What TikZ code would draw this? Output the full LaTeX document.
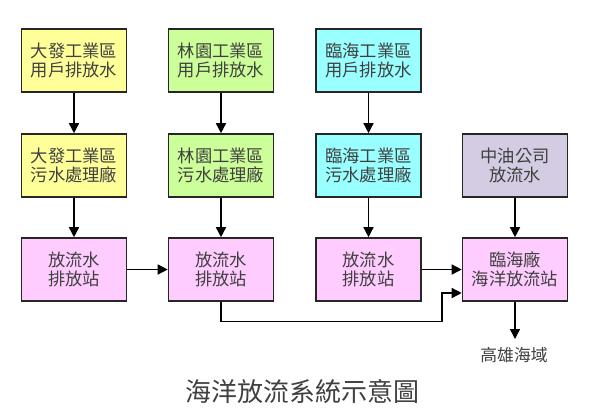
\documentclass[tikz,border=0pt]{standalone}
\usepackage{fontspec}
\setmainfont{Noto Sans CJK TC}
\usetikzlibrary{arrows.meta}
\definecolor{cyel}{HTML}{FFFF99}
\definecolor{cgrn}{HTML}{CCFF99}
\definecolor{ccyn}{HTML}{99FFFF}
\definecolor{cpur}{HTML}{D3CCE3}
\definecolor{cpnk}{HTML}{FFCCFF}
\definecolor{txt}{HTML}{404040}
\begin{document}
\begin{tikzpicture}[x=1pt,y=-1pt,
  box/.style={draw=black!85,line width=1.6pt,minimum width=105pt,minimum height=63pt,inner sep=0pt,
    align=center,font=\fontsize{17.3}{18.5}\selectfont,text=txt},
  conn/.style={line width=1.5pt,-{Triangle[width=10pt,length=10pt]}}]
\useasboundingbox (0,0) rectangle (591,413);
\node[box,fill=cyel] (a1) at (74,60.5) {大發工業區\\用戶排放水};
\node[box,fill=cgrn] (b1) at (221,60.5) {林園工業區\\用戶排放水};
\node[box,fill=ccyn] (c1) at (368.5,60.5) {臨海工業區\\用戶排放水};
\node[box,fill=cyel] (a2) at (74,165.5) {大發工業區\\污水處理廠};
\node[box,fill=cgrn] (b2) at (221,165.5) {林園工業區\\污水處理廠};
\node[box,fill=ccyn] (c2) at (368.5,165.5) {臨海工業區\\污水處理廠};
\node[box,fill=cpur] (d2) at (515,165.5) {中油公司\\放流水};
\node[box,fill=cpnk] (a3) at (74,269.5) {放流水\\排放站};
\node[box,fill=cpnk] (b3) at (221,269.5) {放流水\\排放站};
\node[box,fill=cpnk] (c3) at (368.5,269.5) {放流水\\排放站};
\node[box,fill=cpnk] (d3) at (515,269.5) {臨海廠\\海洋放流站};
\node[font=\fontsize{16.8}{18}\selectfont,text=txt] (out) at (514,355) {高雄海域};
\coordinate (oute) at (515,339);
\node[font=\fontsize{26}{28}\selectfont,text=txt] (title) at (302,392) {海洋放流系統示意圖};
\draw[conn] (a1) -- (a2);
\draw[conn] (b1) -- (b2);
\draw[conn] (c1) -- (c2);
\draw[conn] (a2) -- (a3);
\draw[conn] (b2) -- (b3);
\draw[conn] (c2) -- (c3);
\draw[conn] (d2) -- (d3);
\draw[conn] (a3) -- (b3);
\draw[conn] (c3) -- (d3);
\draw[conn] (b3.south) -- (221,321.5) -- (442,321.5) -- (442,293) -- (d3.west |- 0,293);
\draw[conn] (d3) -- (oute);
\end{tikzpicture}
\end{document}
